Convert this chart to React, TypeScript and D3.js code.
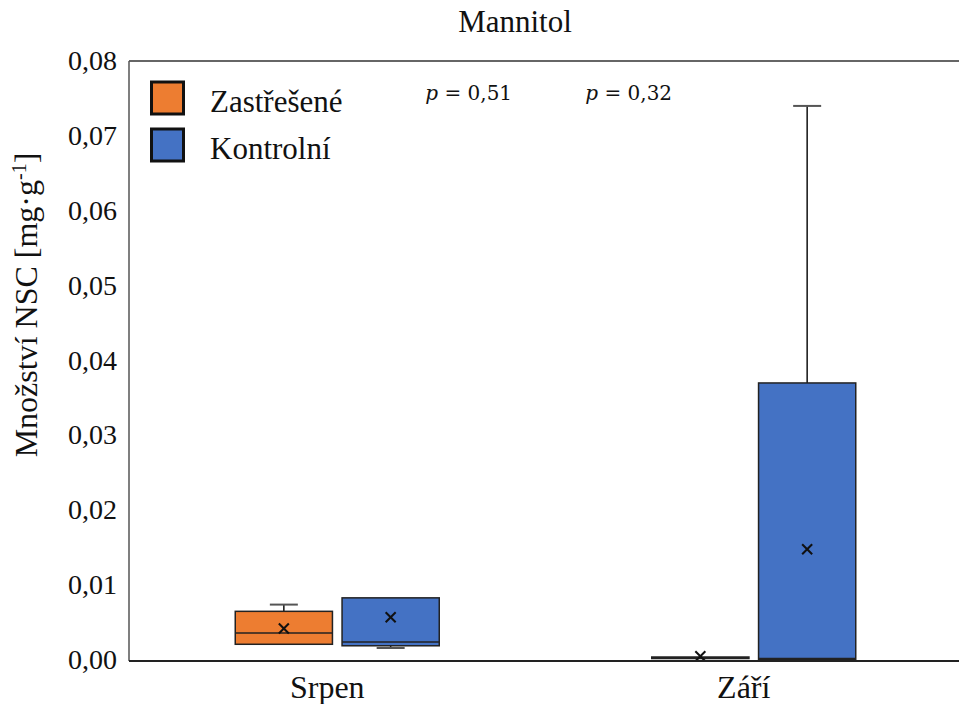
import React from "react";
import * as d3 from "d3";

const categories = ["Srpen", "Září"];
const series = ["Zastřešené", "Kontrolní"];
const colors = ["#ED7D31", "#4472C4"];
// per series, per category
const minVals = [[0.0021, 0.0002], [0.0016, 0.0001]];
const q1Vals = [[0.0021, 0.0002], [0.0019, 0.0001]];
const medianVals = [[0.0036, 0.0003], [0.0024, 0.0002]];
const q3Vals = [[0.0065, 0.0004], [0.0083, 0.037]];
const maxVals = [[0.0074, 0.0004], [0.0083, 0.074]];
const meanVals = [[0.0042, 0.0005], [0.0057, 0.0148]];
const yTicks = [0, 0.01, 0.02, 0.03, 0.04, 0.05, 0.06, 0.07, 0.08];
const pLabels = ["0,51", "0,32"];
const pOffsets = [88, -168.5];

const W = 959;
const H = 704;
const left = 129;
const right = 962;
const top = 61;
const bottom = 660;
const serif = "'Liberation Serif', 'Times New Roman', serif";
const ts: React.CSSProperties = { fontFamily: serif };
const ps: React.CSSProperties = { fontFamily: "'DejaVu Serif', serif" };

export default function App() {
  const y = d3.scaleLinear().domain([0, 0.08]).range([bottom, top]);
  const x = d3.scaleBand().domain(categories).range([left, right]);
  const sub = d3.scaleBand().domain(series).range([-102, 102]).paddingInner(0.09);
  const fmt = (v: number) => d3.format(".2f")(v).replace(".", ",");

  const boxes: React.ReactNode[] = [];
  series.forEach((s, si) => {
    categories.forEach((c, ci) => {
      const cx0 = (x(c) as number) + x.bandwidth() / 2 + (sub(s) as number);
      const bw = sub.bandwidth();
      const cx = cx0 + bw / 2;
      const capW = 28;
      const yq1 = y(q1Vals[si][ci]);
      const yq3 = y(q3Vals[si][ci]);
      const ymin = y(minVals[si][ci]);
      const ymax = y(maxVals[si][ci]);
      const ymed = y(medianVals[si][ci]);
      const ymean = y(meanVals[si][ci]);
      const m = 5;
      boxes.push(
        <g key={s + c}>
          {ymax < yq3 - 0.5 && (
            <>
              <line x1={cx} x2={cx} y1={ymax} y2={yq3} stroke="#111" strokeWidth={1.5} />
              <line x1={cx - capW / 2} x2={cx + capW / 2} y1={ymax} y2={ymax} stroke="#555" strokeWidth={2} />
            </>
          )}
          {ymin > yq1 + 0.5 && (
            <>
              <line x1={cx} x2={cx} y1={yq1} y2={ymin} stroke="#111" strokeWidth={1.5} />
              <line x1={cx - capW / 2} x2={cx + capW / 2} y1={ymin} y2={ymin} stroke="#555" strokeWidth={2} />
            </>
          )}
          <rect
            x={cx0}
            y={yq3}
            width={bw}
            height={Math.max(yq1 - yq3, 0.5)}
            fill={colors[si]}
            stroke="#222"
            strokeWidth={1.5}
          />
          <line x1={cx0} x2={cx0 + bw} y1={ymed} y2={ymed} stroke="#222" strokeWidth={1.5} />
          <line x1={cx - m} x2={cx + m} y1={ymean - m} y2={ymean + m} stroke="#111" strokeWidth={2} />
          <line x1={cx - m} x2={cx + m} y1={ymean + m} y2={ymean - m} stroke="#111" strokeWidth={2} />
        </g>
      );
    });
  });

  return (
    <svg
      width={W}
      height={H}
      style={{ position: "absolute", left: 0, top: 0, background: "#fff" }}
    >
      <text x={515} y={32} textAnchor="middle" fontSize={31} fill="#111" style={ts}>
        Mannitol
      </text>
      {/* frame */}
      <line x1={left} x2={right} y1={top} y2={top} stroke="#333" strokeWidth={1.5} />
      <line x1={left} x2={left} y1={top} y2={bottom + 1} stroke="#555" strokeWidth={1.5} />
      {boxes}
      <line x1={left} x2={right} y1={bottom + 1} y2={bottom + 1} stroke="#222" strokeWidth={2} />
      {/* y ticks */}
      {yTicks.map((t) => (
        <text key={t} x={117} y={y(t) + 9} textAnchor="end" fontSize={28} fill="#111" style={ts}>
          {fmt(t)}
        </text>
      ))}
      <text
        transform={`translate(37, 305) rotate(-90)`}
        textAnchor="middle"
        fontSize={32}
        fill="#111"
        style={ts}
      >
        Množství NSC [mg·g
        <tspan baselineShift="super" fontSize={20}>-1</tspan>]
      </text>
      {/* x labels */}
      {categories.map((c) => (
        <text
          key={c}
          x={(x(c) as number) + x.bandwidth() / 2 - 10}
          y={698}
          textAnchor="middle"
          fontSize={32}
          fill="#111"
          style={ts}
        >
          {c}
        </text>
      ))}
      {/* legend */}
      {series.map((s, i) => (
        <g key={s}>
          <rect x={151.5} y={82 + i * 47} width={32} height={32} fill={colors[i]} stroke="#111" strokeWidth={3} />
          <text x={210} y={112 + i * 47} fontSize={31} fill="#111" style={ts}>
            {s}
          </text>
        </g>
      ))}
      {/* p-values */}
      {pLabels.map((p, i) => (
        <text key={p} x={(x(categories[i]) as number) + x.bandwidth() / 2 + pOffsets[i]} y={100} fontSize={20} fill="#111" style={ps}>
          <tspan fontStyle="italic">p</tspan> = {p}
        </text>
      ))}
    </svg>
  );
}
